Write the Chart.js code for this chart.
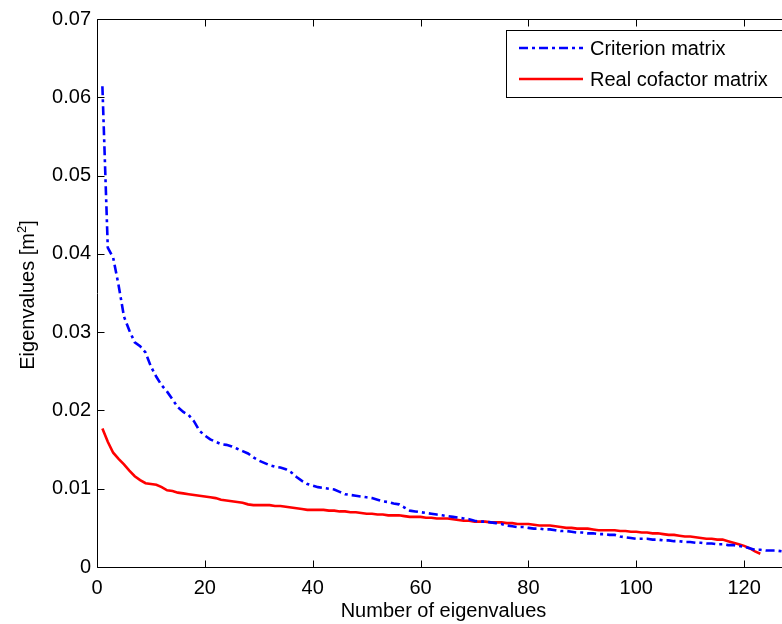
<!DOCTYPE html>
<html><head><meta charset="utf-8">
<script src="https://cdn.jsdelivr.net/npm/chart.js@4/dist/chart.umd.min.js"></script>
<style>html,body{margin:0;padding:0;background:#fff;overflow:hidden;width:782px;height:624px}canvas{display:block}</style>
</head><body><canvas id="c" width="800" height="624"></canvas>
<script>
const criterionMatrix = [
0.0614,0.0408,0.0395,0.0360,0.0320,0.0302,0.0287,0.0282,0.0274,0.0256,
0.0243,0.0232,0.0224,0.0214,0.0204,0.0198,0.0194,0.0186,0.0174,0.0168,
0.0163,0.0160,0.0157,0.0156,0.0154,0.0151,0.0148,0.0145,0.0140,0.0136,
0.0133,0.0130,0.0128,0.0127,0.0125,0.0121,0.0115,0.0110,0.0106,0.0104,
0.0102,0.0101,0.0100,0.0099,0.0096,0.0093,0.0092,0.0091,0.0090,0.0089,
0.0088,0.0086,0.0084,0.0083,0.0081,0.0080,0.0076,0.0072,0.0071,0.0070,
0.0069,0.0068,0.0067,0.0066,0.0065,0.0064,0.0063,0.0062,0.0061,0.0059,
0.0058,0.0058,0.0057,0.0056,0.0055,0.0053,0.0052,0.0051,0.0051,0.0050,
0.0049,0.0049,0.0048,0.0048,0.0047,0.0046,0.0046,0.0045,0.0044,0.0044,
0.0043,0.0043,0.0042,0.0042,0.0041,0.0041,0.0039,0.0038,0.0037,0.0036,
0.0036,0.0036,0.0035,0.0035,0.0034,0.0034,0.0033,0.0033,0.0032,0.0032,
0.0031,0.0031,0.0030,0.0030,0.0029,0.0029,0.0028,0.0028,0.0027,0.0026,
0.0024,0.0022,0.0022,0.0021,0.0021,0.0021,0.0020,0.0020
];
const realCofactorMatrix = [
0.0177,0.0160,0.0146,0.0138,0.0131,0.0123,0.0116,0.0111,0.0107,0.0106,
0.0105,0.0102,0.0098,0.0097,0.0095,0.0094,0.0093,0.0092,0.0091,0.0090,
0.0089,0.0088,0.0086,0.0085,0.0084,0.0083,0.0082,0.0080,0.0079,0.0079,
0.0079,0.0079,0.0078,0.0078,0.0077,0.0076,0.0075,0.0074,0.0073,0.0073,
0.0073,0.0073,0.0072,0.0072,0.0071,0.0071,0.0070,0.0070,0.0069,0.0068,
0.0068,0.0067,0.0067,0.0066,0.0066,0.0066,0.0065,0.0064,0.0064,0.0064,
0.0063,0.0063,0.0062,0.0062,0.0062,0.0061,0.0060,0.0059,0.0059,0.0058,
0.0058,0.0058,0.0057,0.0057,0.0057,0.0056,0.0056,0.0055,0.0055,0.0055,
0.0054,0.0053,0.0053,0.0053,0.0052,0.0051,0.0050,0.0050,0.0049,0.0049,
0.0049,0.0048,0.0047,0.0047,0.0047,0.0047,0.0046,0.0046,0.0045,0.0045,
0.0044,0.0044,0.0043,0.0043,0.0042,0.0041,0.0041,0.0040,0.0039,0.0039,
0.0038,0.0037,0.0036,0.0036,0.0035,0.0035,0.0033,0.0031,0.0029,0.0027,
0.0024,0.0020,0.0017
];
const seriesLabels = ['Criterion matrix', 'Real cofactor matrix'];
const xTicks = [0, 20, 40, 60, 80, 100, 120];
const yTicks = [0, 0.01, 0.02, 0.03, 0.04, 0.05, 0.06, 0.07];
const xTitle = 'Number of eigenvalues';
const yTitleMain = 'Eigenvalues [m';
const yTitleSup = '2';
const yTitleEnd = ']';

const toPoints = arr => arr.map((v, i) => ({x: i + 1, y: v}));
const FONT = 'Liberation Sans, Arial, Helvetica, sans-serif';

const framePlugin = {
  id: 'frame',
  afterDraw(chart) {
    const {ctx, chartArea: a, scales: {x, y}} = chart;
    ctx.save();
    ctx.strokeStyle = '#000';
    ctx.lineWidth = 1;
    ctx.beginPath();
    const L = Math.round(a.left) + 0.5, R = Math.round(a.right) + 0.5;
    const T = Math.round(a.top) + 0.5, B = Math.round(a.bottom) + 0.5;
    ctx.moveTo(L, B); ctx.lineTo(L, T); ctx.lineTo(R, T); ctx.lineTo(R, B); ctx.lineTo(L, B);
    const tl = 7;
    xTicks.forEach(v => {
      const p = Math.round(x.getPixelForValue(v)) + 0.5;
      ctx.moveTo(p, B); ctx.lineTo(p, B - tl);
      ctx.moveTo(p, T); ctx.lineTo(p, T + tl);
    });
    yTicks.forEach(v => {
      const p = Math.round(y.getPixelForValue(v)) + 0.5;
      ctx.moveTo(L, p); ctx.lineTo(L + tl, p);
      ctx.moveTo(R, p); ctx.lineTo(R - tl, p);
    });
    ctx.stroke();

    // y title with superscript
    ctx.fillStyle = '#000';
    ctx.textBaseline = 'alphabetic';
    ctx.textAlign = 'left';
    const mainFont = '20px ' + FONT, supFont = '13px ' + FONT;
    ctx.font = mainFont; const w1 = ctx.measureText(yTitleMain).width; const w3 = ctx.measureText(yTitleEnd).width;
    ctx.font = supFont; const w2 = ctx.measureText(yTitleSup).width;
    const total = w1 + w2 + w3;
    const cy = (a.top + a.bottom) / 2 + 2;
    ctx.translate(34, cy);
    ctx.rotate(-Math.PI / 2);
    let sx = -total / 2;
    ctx.font = mainFont; ctx.fillText(yTitleMain, sx, 0); sx += w1;
    ctx.font = supFont; ctx.fillText(yTitleSup, sx, -8); sx += w2;
    ctx.font = mainFont; ctx.fillText(yTitleEnd, sx, 0);
    ctx.setTransform(1, 0, 0, 1, 0, 0);

    // legend
    const bx = 506.5, by = 30.5, bw = 280, bh = 67;
    ctx.fillStyle = '#fff';
    ctx.fillRect(bx, by, bw, bh);
    ctx.strokeStyle = '#000';
    ctx.lineWidth = 1;
    ctx.strokeRect(bx, by, bw, bh);
    const rows = [48, 79];
    chart.data.datasets.forEach((ds, i) => {
      ctx.beginPath();
      ctx.strokeStyle = ds.borderColor;
      ctx.lineWidth = ds.borderWidth;
      ctx.setLineDash(ds.borderDash || []);
      ctx.moveTo(519, rows[i]); ctx.lineTo(583, rows[i]);
      ctx.stroke();
      ctx.setLineDash([]);
      ctx.fillStyle = '#000';
      ctx.font = '20px ' + FONT;
      ctx.textBaseline = 'middle';
      ctx.fillText(ds.label, 590, rows[i] + 1);
    });
    ctx.restore();
  }
};

new Chart(document.getElementById('c'), {
  type: 'line',
  data: {
    datasets: [
      {label: seriesLabels[0], data: toPoints(criterionMatrix), borderColor: '#0000ff', borderWidth: 2.6,
       borderDash: [9, 4, 3, 4], pointRadius: 0, tension: 0, fill: false},
      {label: seriesLabels[1], data: toPoints(realCofactorMatrix), borderColor: '#ff0000', borderWidth: 2.6,
       pointRadius: 0, tension: 0, fill: false}
    ]
  },
  options: {
    responsive: false,
    animation: false,
    devicePixelRatio: 1,
    layout: {padding: {top: 19, right: 10, left: 0, bottom: 0}},
    plugins: {legend: {display: false}, tooltip: {enabled: false}},
    scales: {
      x: {
        type: 'linear', min: 0, max: 128.5,
        afterBuildTicks: s => { s.ticks = xTicks.map(v => ({value: v})); },
        afterFit: s => { s.height = 57; },
        grid: {display: false, drawTicks: false},
        border: {display: false},
        ticks: {color: '#000', font: {family: FONT, size: 20}, padding: 9, maxRotation: 0, autoSkip: false},
        title: {display: true, text: xTitle, color: '#000', font: {family: FONT, size: 20}, padding: {top: 0, bottom: 1}}
      },
      y: {
        type: 'linear', min: 0, max: 0.07,
        afterBuildTicks: s => { s.ticks = yTicks.map(v => ({value: v})); },
        afterFit: s => { s.width = 97; },
        grid: {display: false, drawTicks: false},
        border: {display: false},
        ticks: {color: '#000', font: {family: FONT, size: 20}, padding: 6,
                callback: v => v === 0 ? '0' : v.toFixed(2)}
      }
    }
  },
  plugins: [framePlugin]
});
</script>
</body></html>
